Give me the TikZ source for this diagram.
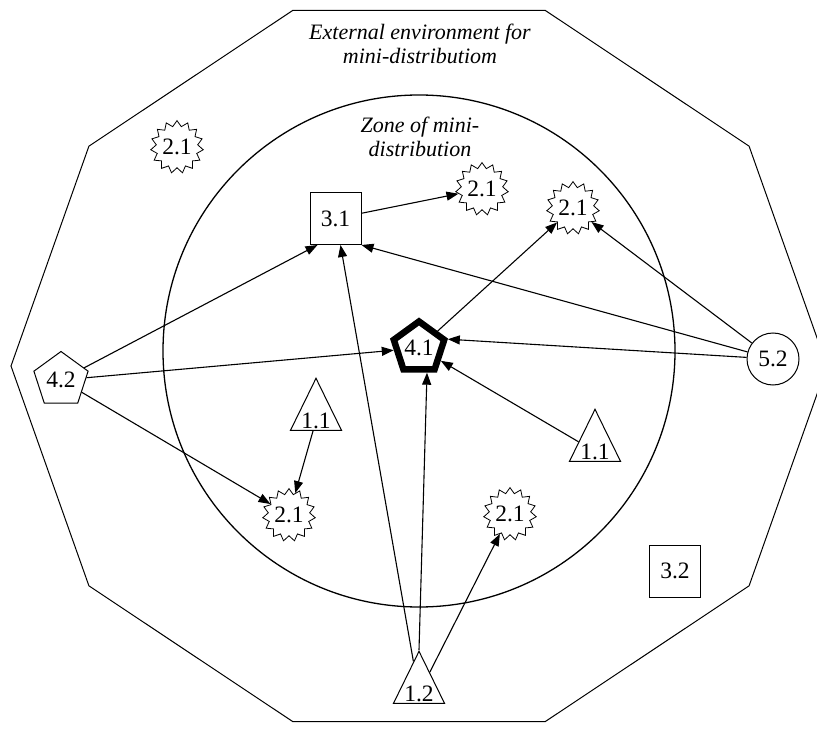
\documentclass[tikz,border=0pt]{standalone}
\usepackage{fontspec}
\setmainfont{Liberation Serif}
\usetikzlibrary{shapes.geometric,arrows.meta,calc}
\begin{document}
\begin{tikzpicture}[x=1pt,y=-1pt,
  every node/.style={font=\fontsize{23.5}{25}\selectfont, inner sep=0pt},
  sq/.style={draw, line width=1pt, minimum width=51pt, minimum height=52pt},
  burst/.style={draw, star, star points=15, star point ratio=1.27, minimum size=51pt, line width=0.8pt},
  tri/.style={draw, isosceles triangle, shape border rotate=90, isosceles triangle stretches, minimum width=51pt, minimum height=52pt, line width=1pt},
  pent/.style={draw, regular polygon, regular polygon sides=5, line width=1pt},
  link/.style={line width=1.1pt, -{Triangle[length=12pt,width=9pt]}},
  lbl/.style={font=\fontsize{22}{24}\selectfont\itshape, align=center}
]
\useasboundingbox (0,0) rectangle (817,738);
\fill[white] (0,0) rectangle (817,738);
% outer decagon
\draw[line width=1pt] (827,366) \foreach \a in {36,72,...,324} { -- ({419+408*cos(\a)},{366-374*sin(\a)}) } -- cycle;
% inner circle
\draw[line width=1.3pt] (419,351) circle[radius=256];

\node[lbl] (ext) at (420,44) {External environment for\\mini-distributiom};
\node[lbl] (zone) at (420,137) {Zone of mini-\\distribution};

\node[burst] (s21a) at (177,147) {2.1};
\node[burst] (s21b) at (482,189) {2.1};
\node[burst] (s21c) at (573,208) {2.1};
\node[burst] (s21d) at (289,515) {2.1};
\node[burst] (s21e) at (510,514) {2.1};
\node[sq] (n31) at (335.5,218.5) {3.1};
\node[sq] (n32) at (675,571) {3.2};
\node[pent, minimum size=53pt, line width=6.5pt] (n41) at (419,348) {4.1};
\node[pent, minimum size=57pt] (n42) at (61,380) {4.2};
\node[draw, circle, minimum size=52pt, line width=1pt] (n52) at (773,359) {5.2};
\node[tri, anchor=apex] (n11a) at (316,377) {1.1};
\node[tri, anchor=apex] (n11b) at (595,408) {1.1};
\node[tri, anchor=apex] (n12) at (419,650) {1.2};

\draw[link] (n31) -- (s21b);
\draw[link] (n41) -- (s21c);
\draw[link] (n52) -- (s21c);
\draw[link] (n52) -- (n31.south east);
\draw[link] (n52) -- (n41.17);
\draw[link] (n11b) -- (n41);
\draw[link] (n12.apex) -- ([xshift=8pt]n41.south);
\draw[link] (n12) -- ([xshift=5pt]n31.south);
\draw[link] (n12) -- (s21e);
\draw[link] (n42) -- ([xshift=8pt]n31.south west);
\draw[link] (n42) -- (n41);
\draw[link] (n42) -- (s21d);
\draw[link] (n11a) -- (s21d);
\end{tikzpicture}
\end{document}
